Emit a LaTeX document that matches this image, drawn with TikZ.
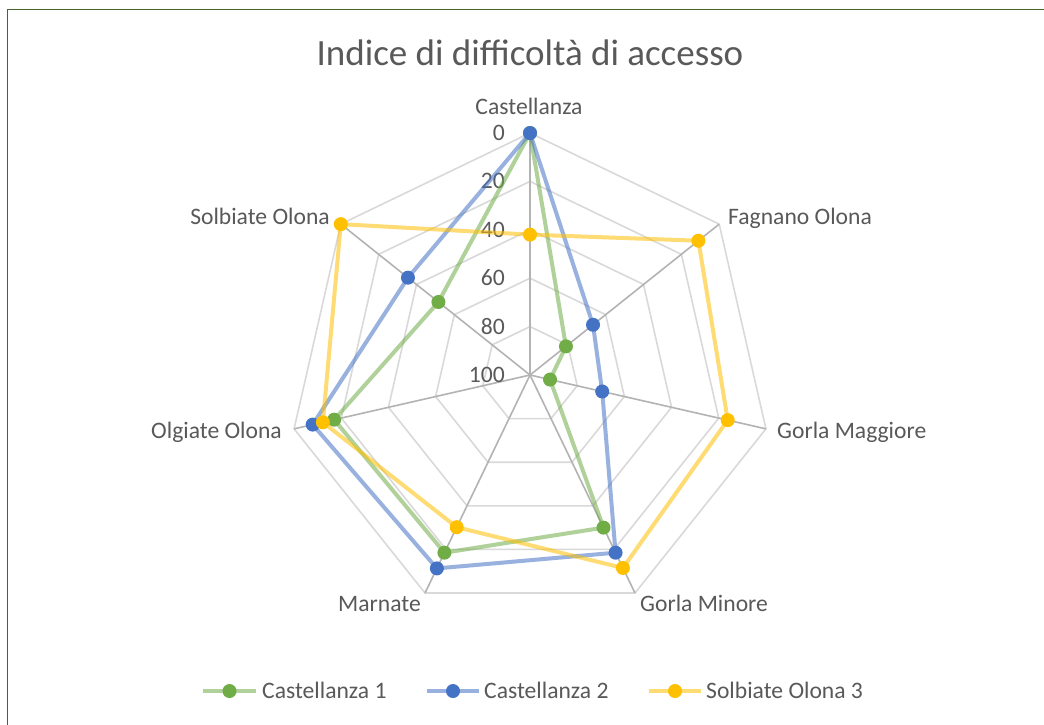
\documentclass[tikz,border=0pt]{standalone}
\usepackage{fontspec}
\setmainfont{Carlito}
\definecolor{txt}{HTML}{595959}
\definecolor{ringc}{HTML}{D9D9D9}
\definecolor{spokec}{HTML}{B3B3B3}
\definecolor{gC}{HTML}{70AD47}
\definecolor{bC}{HTML}{4472C4}
\definecolor{yC}{HTML}{FFC000}
\definecolor{frameC}{RGB}{71,102,45}
\tikzset{
  lab/.style={text=txt,inner sep=0pt,font=\fontsize{23.6}{28}\selectfont},
  ttl/.style={text=txt,inner sep=0pt,font=\fontsize{37}{44}\selectfont},
  ring/.style={draw=ringc,line width=1.6pt,line join=miter},
  spoke/.style={draw=spokec,line width=1.6pt},
  gline/.style={draw=gC,draw opacity=0.55,line width=4pt,line join=round},
  bline/.style={draw=bC,draw opacity=0.55,line width=4pt,line join=round},
  yline/.style={draw=yC,draw opacity=0.55,line width=4pt,line join=round},
}
\begin{document}
\begin{tikzpicture}[x=1pt,y=-1pt]
\useasboundingbox (0,0) rectangle (1044,724);
\fill[white] (0,0) rectangle (1044,724);
\draw[frameC,line width=1.6pt] (7.5,730) -- (7.5,9.5) -- (1050,9.5);
\def\cx{530}\def\cy{375}\def\S{2.42}
\coordinate (O) at (\cx,\cy);
\foreach \k in {0,...,6}
  \coordinate (ax\k) at ({\cx+242*cos(90-\k*360/7)},{\cy-242*sin(90-\k*360/7)});
% rings
\foreach \lv in {0,20,40,60,80}{
  \pgfmathsetmacro\rr{\S*(100-\lv)}
  \draw[ring] ({\cx+\rr*cos(90)},{\cy-\rr*sin(90)})
    \foreach \k in {1,...,6}{ -- ({\cx+\rr*cos(90-\k*360/7)},{\cy-\rr*sin(90-\k*360/7)}) } -- cycle;
}
% spokes
\foreach \k in {0,...,6} \draw[spoke] (O) -- (ax\k);
% numbers
\foreach \lv in {0,20,40,60,80,100}{
  \pgfmathsetmacro\yy{\cy-\S*(100-\lv)+7.5}
  \node[lab,anchor=base east] (n\lv) at (505,\yy) {\lv};
}
% series coordinates
\foreach \v [count=\k from 0] in {0,81,91.5,30,18.5,17,51.6}
  \coordinate (ga\k) at ({\cx+\S*(100-\v)*cos(90-\k*360/7)},{\cy-\S*(100-\v)*sin(90-\k*360/7)});
\foreach \v [count=\k from 0] in {0,66.7,69.4,18.5,11.3,7.9,35.5}
  \coordinate (bl\k) at ({\cx+\S*(100-\v)*cos(90-\k*360/7)},{\cy-\S*(100-\v)*sin(90-\k*360/7)});
\foreach \v [count=\k from 0] in {42,11,16.2,11.5,30.2,12.2,0}
  \coordinate (ye\k) at ({\cx+\S*(100-\v)*cos(90-\k*360/7)},{\cy-\S*(100-\v)*sin(90-\k*360/7)});
% series 1
\draw[gline] (ga0) -- (ga1) -- (ga2) -- (ga3) -- (ga4) -- (ga5) -- (ga6) -- cycle;
\foreach \k in {0,...,6} \fill[gC] (ga\k) circle (7);
% series 2
\draw[bline] (bl0) -- (bl1) -- (bl2) -- (bl3) -- (bl4) -- (bl5) -- (bl6) -- cycle;
\foreach \k in {0,...,6} \fill[bC] (bl\k) circle (7);
% series 3
\draw[yline] (ye0) -- (ye1) -- (ye2) -- (ye3) -- (ye4) -- (ye5) -- (ye6) -- cycle;
\foreach \k in {0,...,6} \fill[yC] (ye\k) circle (7);
% axis labels
\node[lab,anchor=base] (L0) at (529,114) {Castellanza};
\node[lab,anchor=base west] (L1) at (728,224) {Fagnano Olona};
\node[lab,anchor=base west] (L2) at (777,438) {Gorla Maggiore};
\node[lab,anchor=base west] (L3) at (640,611) {Gorla Minore};
\node[lab,anchor=base east] (L4) at (421,611) {Marnate};
\node[lab,anchor=base east] (L5) at (282,438) {Olgiate Olona};
\node[lab,anchor=base east] (L6) at (330,224) {Solbiate Olona};
% title
\node[ttl,anchor=base] (title) at (530,65) {Indice di difficoltà di accesso};
% legend
\coordinate (lg1a) at (203,691); \coordinate (lg1b) at (256,691); \coordinate (lg1m) at (229.5,691);
\coordinate (lg2a) at (427,691); \coordinate (lg2b) at (479,691); \coordinate (lg2m) at (453,691);
\coordinate (lg3a) at (649,691); \coordinate (lg3b) at (701,691); \coordinate (lg3m) at (675,691);
\draw[gline] (lg1a) -- (lg1b); \fill[gC] (lg1m) circle (7);
\draw[bline] (lg2a) -- (lg2b); \fill[bC] (lg2m) circle (7);
\draw[yline] (lg3a) -- (lg3b); \fill[yC] (lg3m) circle (7);
\node[lab,anchor=base west] (t1) at (262,698.5) {Castellanza 1};
\node[lab,anchor=base west] (t2) at (484,698.5) {Castellanza 2};
\node[lab,anchor=base west] (t3) at (706,698.5) {Solbiate Olona 3};
\end{tikzpicture}
\end{document}
